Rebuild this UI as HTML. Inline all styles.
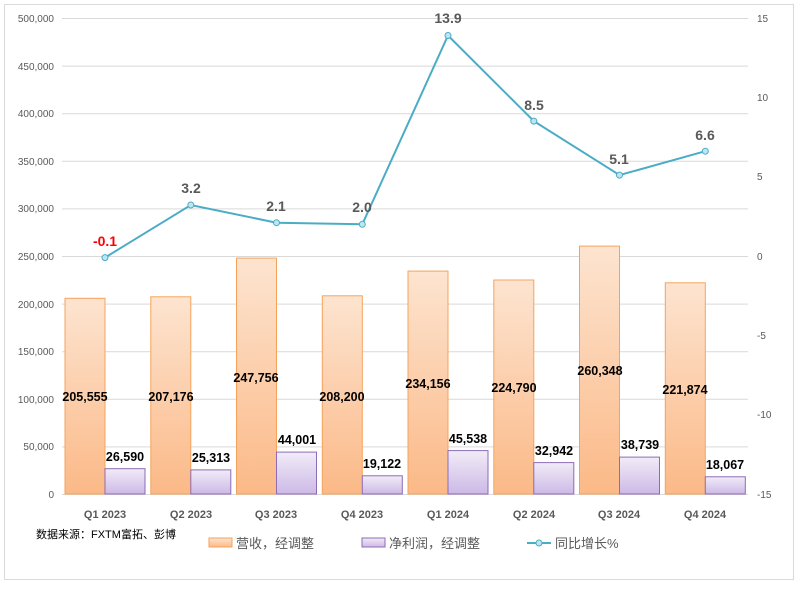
<!DOCTYPE html>
<html><head><meta charset="utf-8"><style>
body{margin:0;background:#fff}
text{font-family:"Liberation Sans","Noto Sans CJK SC",sans-serif}
</style></head><body>
<svg width="804" height="585" xmlns="http://www.w3.org/2000/svg">
<defs>
<linearGradient id="go" x1="0" y1="0" x2="0" y2="1"><stop offset="0" stop-color="#fde4d0"/><stop offset="1" stop-color="#fbb987"/></linearGradient>
<linearGradient id="gp" x1="0" y1="0" x2="0" y2="1"><stop offset="0" stop-color="#f1ecf8"/><stop offset="1" stop-color="#cdb9e6"/></linearGradient>
</defs>
<rect x="4.5" y="4.5" width="789" height="575" fill="#fff" stroke="#d9d9d9"/>
<g stroke="#d9d9d9" stroke-width="1">
<line x1="62" x2="748" y1="18.5" y2="18.5"/><line x1="62" x2="748" y1="66.1" y2="66.1"/><line x1="62" x2="748" y1="113.7" y2="113.7"/><line x1="62" x2="748" y1="161.3" y2="161.3"/><line x1="62" x2="748" y1="208.9" y2="208.9"/><line x1="62" x2="748" y1="256.5" y2="256.5"/><line x1="62" x2="748" y1="304.1" y2="304.1"/><line x1="62" x2="748" y1="351.7" y2="351.7"/><line x1="62" x2="748" y1="399.3" y2="399.3"/><line x1="62" x2="748" y1="446.9" y2="446.9"/><line x1="62" x2="748" y1="494.5" y2="494.5"/>
</g>
<g font-size="10" fill="#595959" text-anchor="end">
<text x="54" y="22">500,000</text><text x="54" y="70">450,000</text><text x="54" y="117">400,000</text><text x="54" y="165">350,000</text><text x="54" y="212">300,000</text><text x="54" y="260">250,000</text><text x="54" y="308">200,000</text><text x="54" y="355">150,000</text><text x="54" y="403">100,000</text><text x="54" y="450">50,000</text><text x="54" y="498">0</text>
</g>
<g font-size="10" fill="#595959" text-anchor="start">
<text x="757" y="22">15</text><text x="757" y="101">10</text><text x="757" y="180">5</text><text x="757" y="260">0</text><text x="757" y="339">-5</text><text x="757" y="418">-10</text><text x="757" y="498">-15</text>
</g>
<g id="bars" stroke-width="1">
<rect x="65" y="298.3" width="40" height="195.7" fill="url(#go)" stroke="#f5a35c"/>
<rect x="150.8" y="296.8" width="40" height="197.2" fill="url(#go)" stroke="#f5a35c"/>
<rect x="236.5" y="258.1" width="40" height="235.9" fill="url(#go)" stroke="#f5a35c"/>
<rect x="322.3" y="295.8" width="40" height="198.2" fill="url(#go)" stroke="#f5a35c"/>
<rect x="408" y="271.1" width="40" height="222.9" fill="url(#go)" stroke="#f5a35c"/>
<rect x="493.8" y="280" width="40" height="214" fill="url(#go)" stroke="#f5a35c"/>
<rect x="579.5" y="246.1" width="40" height="247.9" fill="url(#go)" stroke="#f5a35c"/>
<rect x="665.3" y="282.8" width="40" height="211.2" fill="url(#go)" stroke="#f5a35c"/>
<rect x="105" y="468.7" width="40" height="25.3" fill="url(#gp)" stroke="#8e6bb5"/>
<rect x="190.8" y="469.9" width="40" height="24.1" fill="url(#gp)" stroke="#8e6bb5"/>
<rect x="276.5" y="452.1" width="40" height="41.9" fill="url(#gp)" stroke="#8e6bb5"/>
<rect x="362.3" y="475.8" width="40" height="18.2" fill="url(#gp)" stroke="#8e6bb5"/>
<rect x="448" y="450.6" width="40" height="43.4" fill="url(#gp)" stroke="#8e6bb5"/>
<rect x="533.8" y="462.6" width="40" height="31.4" fill="url(#gp)" stroke="#8e6bb5"/>
<rect x="619.5" y="457.1" width="40" height="36.9" fill="url(#gp)" stroke="#8e6bb5"/>
<rect x="705.3" y="476.8" width="40" height="17.2" fill="url(#gp)" stroke="#8e6bb5"/>
</g>
<g font-size="12.5" font-weight="bold" fill="#000" text-anchor="middle">
<text x="85" y="401">205,555</text><text x="171" y="401">207,176</text><text x="256" y="382">247,756</text><text x="342" y="401">208,200</text><text x="428" y="388">234,156</text><text x="514" y="392">224,790</text><text x="600" y="375">260,348</text><text x="685" y="394">221,874</text>
<text x="125" y="461">26,590</text><text x="211" y="462">25,313</text><text x="297" y="444">44,001</text><text x="382" y="468">19,122</text><text x="468" y="443">45,538</text><text x="554" y="455">32,942</text><text x="640" y="449">38,739</text><text x="725" y="469">18,067</text>
</g>
<g font-size="11" font-weight="bold" fill="#595959" text-anchor="middle">
<text x="105" y="518">Q1 2023</text><text x="191" y="518">Q2 2023</text><text x="276" y="518">Q3 2023</text><text x="362" y="518">Q4 2023</text><text x="448" y="518">Q1 2024</text><text x="534" y="518">Q2 2024</text><text x="619" y="518">Q3 2024</text><text x="705" y="518">Q4 2024</text>
</g>
<polyline fill="none" stroke="#4bacc6" stroke-width="2" points="105,257.6 190.8,205 276.5,222.7 362.3,224.3 448,35.5 533.8,121.1 619.5,175.1 705.3,151.2"/>
<g fill="#bfe6f0" stroke="#4bacc6" stroke-width="1">
<circle cx="105" cy="257.6" r="3"/><circle cx="190.8" cy="205" r="3"/><circle cx="276.5" cy="222.7" r="3"/><circle cx="362.3" cy="224.3" r="3"/><circle cx="448" cy="35.5" r="3"/><circle cx="533.8" cy="121.1" r="3"/><circle cx="619.5" cy="175.1" r="3"/><circle cx="705.3" cy="151.2" r="3"/>
</g>
<g font-size="14" font-weight="bold" fill="#595959" text-anchor="middle">
<text x="105" y="246" fill="#ff0000">-0.1</text><text x="191" y="193">3.2</text><text x="276" y="211">2.1</text><text x="362" y="212">2.0</text><text x="448" y="23">13.9</text><text x="534" y="110">8.5</text><text x="619" y="164">5.1</text><text x="705" y="140">6.6</text>
</g>
<text x="36" y="538" font-size="11" fill="#000">数据来源：FXTM富拓、彭博</text>
<rect x="209" y="538" width="23" height="9" fill="url(#go)" stroke="#f5a35c"/>
<text x="236" y="548" font-size="13" fill="#595959">营收，经调整</text>
<rect x="362" y="538" width="23" height="9" fill="url(#gp)" stroke="#8e6bb5"/>
<text x="389" y="548" font-size="13" fill="#595959">净利润，经调整</text>
<line x1="527" x2="551" y1="543" y2="543" stroke="#4bacc6" stroke-width="2"/>
<circle cx="539" cy="543" r="3" fill="#bfe6f0" stroke="#4bacc6"/>
<text x="555" y="548" font-size="13" fill="#595959">同比增长%</text>
</svg>
</body></html>
